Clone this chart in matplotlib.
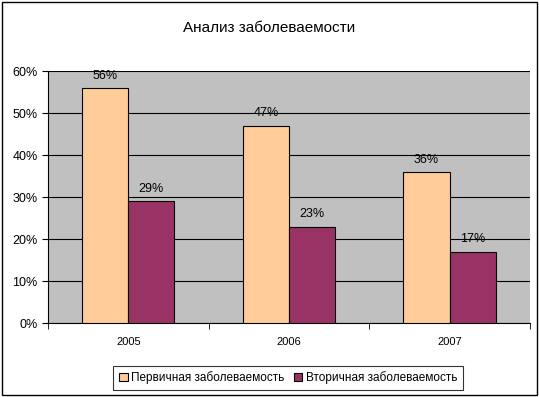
import matplotlib.pyplot as plt
from matplotlib.patches import Rectangle
from matplotlib.ticker import PercentFormatter
import numpy as np

plt.rcParams['font.family'] = ['Liberation Sans', 'DejaVu Sans']

years = ["2005", "2006", "2007"]
primary = [56, 47, 36]
secondary = [29, 23, 17]
series_names = ["Первичная заболеваемость", "Вторичная заболеваемость"]

fig = plt.figure(figsize=(5.39, 3.97), dpi=100)
fig.patches.append(Rectangle((0.004, 0.004), 0.992, 0.992, transform=fig.transFigure,
                             fill=False, edgecolor="black", linewidth=1))

ax = fig.add_axes([0.089, 0.186, 0.894, 0.635])
ax.set_facecolor("#C0C0C0")

x = np.arange(len(years))
w = 0.287
b1 = ax.bar(x - w / 2, primary, w, color="#FFCC99", edgecolor="black", linewidth=0.8,
            label=series_names[0], zorder=3)
b2 = ax.bar(x + w / 2, secondary, w, color="#993366", edgecolor="black", linewidth=0.8,
            label=series_names[1], zorder=3)

for bars, vals in ((b1, primary), (b2, secondary)):
    for r, v in zip(bars, vals):
        ax.text(r.get_x() + r.get_width() / 2, v + 1.5, f"{v}%", ha="center", va="bottom",
                fontsize=9, zorder=4)

ax.set_xlim(-0.5, 2.5)
ax.set_ylim(0, 60)
ax.set_yticks(range(0, 61, 10))
ax.yaxis.set_major_formatter(PercentFormatter(decimals=0))
ax.set_xticks(x)
ax.set_xticklabels(years)
ax.set_xticks([-0.5, 0.5, 1.5, 2.5], minor=True)
ax.tick_params(axis="x", which="major", length=0, pad=10, labelsize=8)
ax.tick_params(axis="x", which="minor", length=4, direction="out")
ax.tick_params(axis="y", length=4, direction="out", labelsize=9)
ax.grid(axis="y", color="black", linewidth=0.8, zorder=1)
for s in ["top", "right"]:
    ax.spines[s].set_visible(False)

fig.text(0.5, 0.93, "Анализ заболеваемости", ha="center", va="center", fontsize=11)

leg = fig.legend(loc="center", bbox_to_anchor=(0.535, 0.048), ncol=2, fontsize=8.5,
                 frameon=True, fancybox=False, edgecolor="black", handlelength=0.7,
                 handleheight=0.7, handletextpad=0.3, columnspacing=0.8, borderpad=0.5)
leg.get_frame().set_linewidth(0.8)

fig.savefig("out.png", dpi=100)
